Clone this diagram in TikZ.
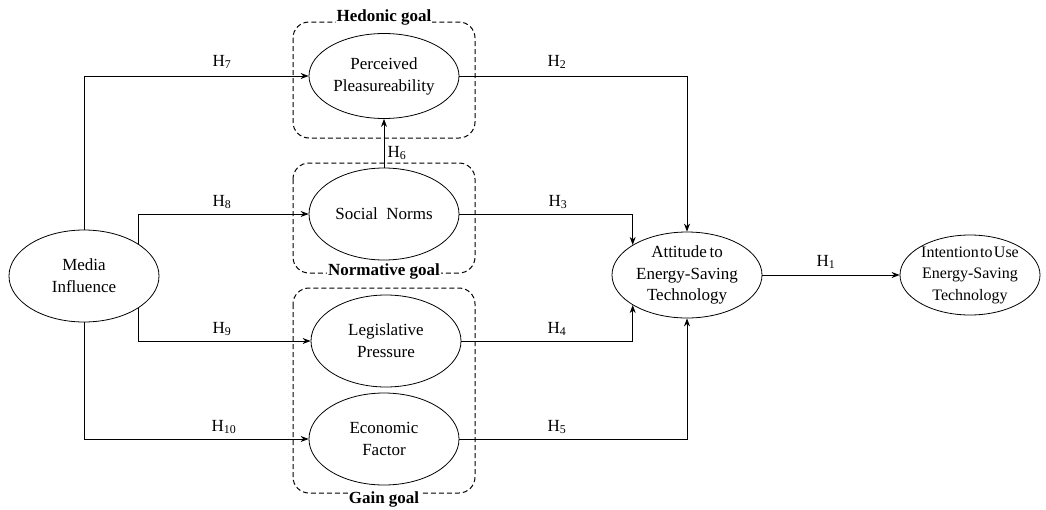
\documentclass[tikz,border=0pt]{standalone}
\usepackage{fontspec}
\setmainfont{Liberation Serif}
\usetikzlibrary{shapes.geometric,arrows.meta}
\begin{document}
\begin{tikzpicture}[x=1pt,y=-1pt,
  ell/.style={draw, ellipse, inner sep=0pt, line width=0.8pt, minimum width=150pt, minimum height=92pt},
  txt/.style={align=center, font=\fontsize{17}{22}\selectfont},
  grp/.style={draw, dash pattern=on 5pt off 3pt, rounded corners=16pt, line width=1pt},
  gname/.style={font=\fontsize{17}{20}\selectfont\bfseries, fill=white, inner sep=1pt},
  hyp/.style={font=\fontsize{17}{20}\selectfont, inner sep=1pt},
  conn/.style={line width=0.8pt, -{Stealth[length=8pt,width=6pt]}}
]
\useasboundingbox (0,0) rectangle (1046,509);

% goal groups
\draw[grp] (293,22) rectangle (475,138);
\draw[grp] (293,163) rectangle (475,273);
\draw[grp] (293,288) rectangle (475,493);
\node[gname] (hed) at (384,17) {Hedonic goal};
\node[gname] (nor) at (384,271) {Normative goal};
\node[gname] (gain) at (384,499) {Gain goal};

% constructs
\node[ell, minimum height=92pt, label={[txt]center:Media\\Influence}] (media) at (84,276) {};
\node[ell, minimum height=85pt, label={[txt]center:Perceived\\Pleasureability}] (perc) at (384,76) {};
\node[ell, label={[txt]center:Social\ \ Norms}] (soc) at (384,214) {};
\node[ell, label={[txt]center:Legislative\\Pressure}] (leg) at (386,341) {};
\node[ell, label={[txt]center:Economic\\Factor}] (eco) at (384,439) {};
\node[ell, minimum height=86pt, label={[txt, font=\fontsize{17}{21.5}\selectfont]center:Attitude\hspace{0.15em}to\\Energy-Saving\\Technology}] (att) at (687,275) {};
\node[ell, minimum width=140pt, minimum height=80pt, label={[txt, font=\fontsize{16}{21.5}\selectfont]center:{\spaceskip=0.08em Intention to Use}\\Energy-Saving\\Technology}] (int) at (970,275) {};

% connectors from media influence
\draw[conn] (media.north) |- (perc.west);
\draw[conn] (media.31.5) |- (soc.west);
\draw[conn] (media.-31.5) |- (leg.west);
\draw[conn] (media.south) |- (eco.west);
\draw[conn] (soc.north) -- (perc.south);

% connectors to attitude
\draw[conn] (perc.east) -| (att.north);
\draw[conn] (soc.east) -| (att.151);
\draw[conn] (leg.east) -| (att.209);
\draw[conn] (eco.east) -| (att.south);
\draw[conn] (att.east) -- (int.west);

% hypothesis labels
\node[hyp] (h7) at (222,62) {H\textsubscript{7}};
\node[hyp] (h8) at (222,202) {H\textsubscript{8}};
\node[hyp] (h9) at (222,329) {H\textsubscript{9}};
\node[hyp] (h10) at (224,427) {H\textsubscript{10}};
\node[hyp] (h6) at (397,153) {H\textsubscript{6}};
\node[hyp] (h2) at (557,62) {H\textsubscript{2}};
\node[hyp] (h3) at (558,202) {H\textsubscript{3}};
\node[hyp] (h4) at (557,329) {H\textsubscript{4}};
\node[hyp] (h5) at (557,427) {H\textsubscript{5}};
\node[hyp] (h1) at (826,262) {H\textsubscript{1}};
\end{tikzpicture}
\end{document}
